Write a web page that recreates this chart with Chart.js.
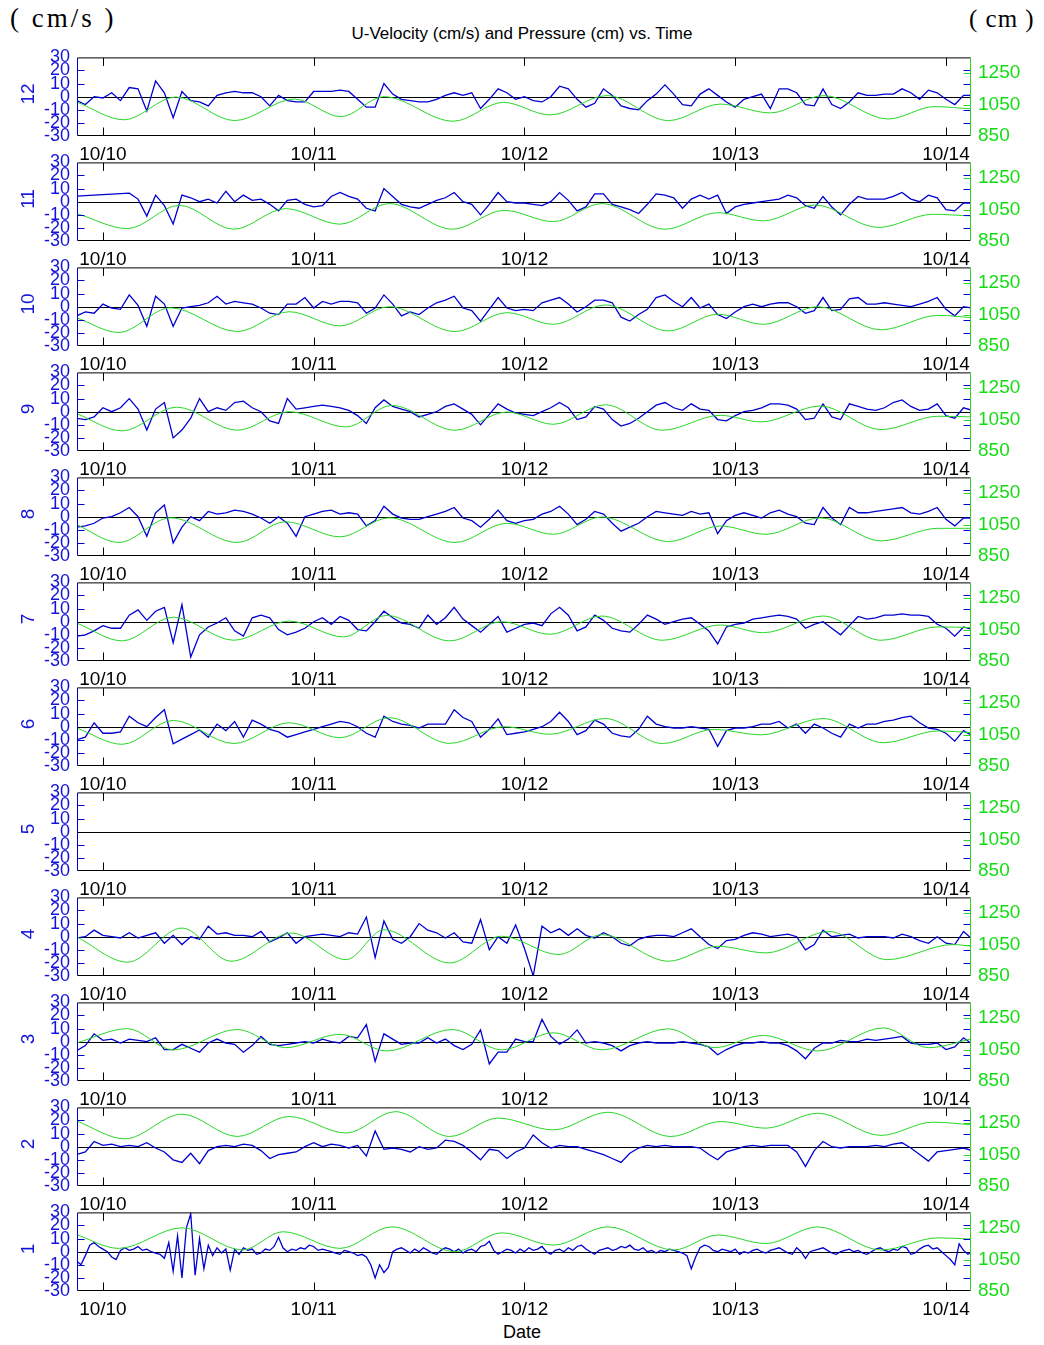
<!DOCTYPE html>
<html>
<head>
<meta charset="utf-8">
<script src="https://cdn.jsdelivr.net/npm/chart.js@4.4.1/dist/chart.umd.min.js"></script>
<style>
    body { margin: 0; background: #fff; width: 1044px; height: 1345px; position: relative; overflow: hidden; font-family: "Liberation Sans", Arial, sans-serif; }
    canvas { position: absolute; left: 0; }
    .title { position: absolute; left: 0; width: 1044px; top: 24px; line-height: 20px; text-align: center; font-size: 17px; color: #000; }
    .date { position: absolute; left: 0; width: 1044px; top: 1322px; line-height: 20px; text-align: center; font-size: 18px; color: #000; }
    .unit { position: absolute; font-family: "Liberation Serif", serif; color: #000; white-space: pre; }
    .panel-no { position: absolute; left: 8px; width: 40px; height: 20px; line-height: 20px; text-align: center; font-size: 19px; color: #1414d8; transform: rotate(-90deg); }
</style>
</head>
<body>
<div class="unit" style="left:10px; top:3px; font-size:27px; letter-spacing:3px;">( cm/s )</div>
<div class="unit" style="left:969px; top:5px; font-size:25px; letter-spacing:1px;">( cm )</div>
<div class="title">U-Velocity (cm/s) and Pressure (cm) vs. Time</div>
<div class="date">Date</div>
<script>
document.addEventListener('DOMContentLoaded', () => {
    // velocity records: one value per sample, first sample at 10/09 21:00 (hour -3)
    const uStart = -3;
    const u12 = [-3, -6, 0,
        -1, 3, -3, 7, 6, -11, 12, 3, -16, 4, -3, -4,
        -7, 1, 3, 4, 3, 3, 0, -7, 1, -3, -4, -4,
        4, 4, 4, 5, 4, -2, -8, -8, 10, 2, -2, -3,
        -4, -4, -2, 1, 3, 1, 3, -9, -2, 6, 3, -2,
        0, -3, -4, 0, 8, 6, -2, -8, -5, 6, 1, -7,
        -9, -10, -3, 2, 9, 2, -6, -7, 2, 6, 1, -4,
        -8, -2, 0, 2, -9, 6, 6, 3, -6, -7, 6, -6,
        -9, -4, 3, 1, 1, 2, 2, 6, 3, -2, 5, 3,
        -2, -6, 1, 1];
    const u11 = [4.3, 4.6, 5,
        5.4, 5.8, 6.2, 6.5, 2, -11, 5, -3, -17, 5, 3, 0,
        2, -1, 8, 0, 5, 1, 2, -2, -7, 1, 2, -2,
        -4, -3, 4, 7, 4, 2, -5, -7, 10, 4, -2, -4,
        -5, -2, 1, 3, 7, 0, -2, -10, -2, 7, 0, -1,
        -1, -2, -3, 0, 7, 1, -7, -4, 6, 6, -2, -4,
        -6, -9, -2, 6, 5, 3, -5, 2, 5, 2, 5, -9,
        -4, -2, -1, 0, 1, 2, 5, 3, -3, -5, 4, -4,
        -10, -2, 4, 2, 2, 2, 4, 7, 2, 0, 5, 3,
        -6, -7, -1, -1];
    const u10 = [-7, -4, -5,
        2, -1, -2, 9, 1, -15, 8, 2, -15, -1, 0, 1,
        3, 8, 2, 4, 3, 2, -1, -5, -6, 2, 2, 7,
        -1, 4, 2, 4, 4, 3, -5, -1, 9, 2, -7, -4,
        -6, -1, 3, 5, 8, -1, -3, -11, -2, 7, -1, -3,
        -2, -3, 3, 5, 7, 2, -4, 0, 5, 5, 3, -8,
        -11, -6, -2, 7, 9, 4, 0, 7, -1, 2, -6, -9,
        -4, 0, 2, 0, 2, 3, 3, 0, -5, -3, 7, -3,
        -2, 6, 7, 2, 2, 3, 2, 1, 0, 2, 4, 7,
        -2, -7, 0, -1];
    const u9 = [-5, -6, -4,
        3, 0, 3, 10, 2, -14, 2, 7, -20, -14, -5, 10,
        0, 3, 1, 7, 8, 3, 0, -7, -9, 10, 2, 3,
        4, 5, 4, 3, 1, -3, -9, 3, 9, 4, 2, 0,
        -4, -2, 0, 4, 6, 2, -2, -10, -2, 6, 2, -1,
        -2, -3, 0, 3, 7, 3, -6, -4, 4, 2, -6, -11,
        -9, -5, 0, 5, 7, 3, 1, 6, 2, 1, -6, -7,
        -3, 0, 1, 3, 6, 6, 5, 2, -6, -5, 6, -4,
        -6, 6, 4, 2, 1, 3, 7, 9, 4, 1, 2, 6,
        -3, -5, 3, 1];
    const u8 = [-8, -7, -5,
        -1, 0, 3, 7, 0, -15, 3, 9, -20, -8, 0, -3,
        4, 2, 3, 5, 4, 2, -1, -5, 0, -5, -15, 0,
        2, 4, 5, 2, 3, 2, -7, -3, 8, 2, -1, -2,
        -2, 0, 2, 4, 7, -1, -3, -8, -2, 5, -3, -5,
        -3, -2, 2, 4, 8, 2, -6, -2, 4, 2, -5, -11,
        -8, -5, 0, 4, 3, 2, 1, 4, 2, 3, -13, -3,
        1, 3, 1, -1, 3, 5, 2, 0, -5, -6, 7, -1,
        -6, 7, 3, 3, 4, 5, 6, 7, 3, 2, 4, 7,
        -2, -7, -1, -1];
    const u7 = [-11, -10, -7,
        -3, -5, -5, 5, 9, 1, 8, 11, -16, 13, -27, -10,
        -4, -1, 3, -7, -11, 3, 5, 3, -6, -10, -8, -5,
        0, 3, -2, 4, 1, -6, -7, 0, 8, 3, -1, -2,
        -5, 5, -2, 3, 11, 2, -3, -8, -2, 4, -8, -5,
        -2, -1, -3, 6, 11, 5, -7, -4, 5, 1, -5, -7,
        -8, -2, 5, 2, -2, 0, 2, 3, -2, -7, -17, -4,
        -2, -1, 2, 3, 4, 5, 4, 2, -5, -2, 0, -5,
        -10, -3, 4, 2, 3, 5, 5, 6, 5, 5, 4, -2,
        -5, -11, -4, -6];
    const u6 = [-10, -8, 3,
        -5, -5, -4, 8, 3, 0, 7, 13, -13, -9.5, -6, -2.5,
        -8, 2, -3, 4, -8, 5, 2, -2, -4, -8, -6, -4,
        -2, 0, 2, 4, 3, 0, -5, -8, 8, 4, 2, 1,
        -1, 2, 2, 2, 13, 7, 4, -8, -2, 6, -6, -5,
        -4, -2, 0, 4, 11, 4, -6, -3, 5, 2, -5, -7,
        -8, -2, 8, 2, 0, -1, -1, 0, -1, -2, -15, -3,
        -1, -1, 0, 2, 2, 4, -1, 2, -5, 2, -1, -5,
        -8, 2, -1, 2, 2, 4, 5, 7, 8, 3, -1, -2,
        -5, -11, -3, -7];
    const u4 = [-1, 0, 5,
        1, 0, -1, 3, -1, 1, 3, -5, 1, -6, 0, -2,
        8, 2, 3, 1, 1, 0, 4, -4, -1, 3, -5, 0,
        1, 2, 1, 0, 3, 2, 15, -16, 12, -2, -5, 0,
        10, 5, 3, -1, 3, -4, -5, 13, -10, 0, -5, 9,
        -9, -30, 8, 3, 6, 1, 6, 1, -1, 3, 0, -5,
        -7, -2, 0, 1, 1, 0, 3, 6, 0, -6, -9, -3,
        -2, 1, 3, 2, 0, 1, 2, 0, -10, -6, 5, 0,
        1, 2, -1, 0, 0, 0, -1, 2, 0, -3, -5, 0,
        -5, -6, 4, -2];
    const u3 = [-7, -3, 6,
        1, 2, -1, 2, 1, 0, 3, -6, -6, -2, -5, -8,
        -1, 2, -1, -2, -8, -3, 4, -2, -3, -2, -1, 0,
        -1, 2, 0, -1, 4, 3, 13, -15, 6, 2, -2, -1,
        -1, 3, -1, 2, -3, -6, -2, 9, -17, -8, -8, 2,
        0, 0, 17, 4, -2, 2, 9, -1, 0, -1, -3, -7,
        -3, -1, 0, -1, -1, -1, 0, -1, -2, -4, -10, -6,
        -3, -1, -1, 0, -1, -1, -3, -7, -13, -5, -1, -1,
        1, 0, 0, 2, 1, 2, 3, 4, -1, -2, -2, -1,
        -6, -4, 3, -2];
    const u2 = [-6, -4, 4,
        1, 2, 0, 1, 0, 3, -1, -4, -10, -12, -5, -13,
        -3, 0, 1, 0, 2, 1, -3, -9, -6, -5, -4, 0,
        3, 0, 2, 1, -1, 1, -7, 12, -2, -1, -2, -4,
        0, -2, -1, 5, 4, 1, -4, -10, -2, -3, -9, -4,
        -1, 9, 3, -1, 1, 0, 0, -2, -4, -6, -9, -12,
        -5, -1, 1, 0, 1, 0, 0, 0, -1, -6, -10, -4,
        -2, 0, 1, 0, 1, 1, 1, -4, -15, -3, 4, 0,
        -1, 0, 0, 0, 1, 0, 2, 3, -1, -6, -11, -4,
        -3, -2, -1, -3];
    // bottom record is sampled every half hour
    const u1 = [-7, -10, -3, 5, 7, 4,
        2, 0, -4, -6, 1, 3, 1, 2, 4, 1, 2, 0, -1, -2, -5, 7, -15, 12, -20, 18, 29, -18, 10, -13,
        5, -3, 3, -1, 2, -14, 2, -2, 3, 1, 2, -2, -1, 2, 1, 4, 11, 3, 0, 2, 1, 3, 2, 5,
        4, 1, 2, 1, 0, -1, -2, 1, 0, -1, -3, -2, -4, -10, -20, -10, -16, -12, 0, 2, 3, 1, -1, 2,
        0, 3, 1, -1, -2, 1, 3, 2, 0, 2, -1, 1, 2, 0, 4, 5, 8, 1, -2, 0, 2, 1, -1, 2,
        0, 3, 1, 2, 4, 0, -2, 1, 2, 0, 3, 1, 4, 5, 2, 0, -2, 1, 2, 3, 1, 2, 4, 3,
        5, 2, 1, 3, 0, 1, -1, 1, 0, 2, 1, 0, -1, -3, -13, -4, 3, 5, 4, 1, 0, 2, 1, 0,
        2, -2, 0, -1, 1, 2, 0, -1, 1, 2, 3, 1, -1, -2, 3, 0, -5, 0, 1, 2, 3, 1, -1, -2,
        0, 1, 2, 0, 1, -1, -2, 0, 2, 3, 1, 0, 2, 1, 4, 3, -2, -1, 2, 4, 5, 2, 3, 0,
        -3, -6, -10, 6, 1, -2, 0];

    // pressure: turning points of the tide (hour, cm)
    const p12h = [-3, 2.4, 8.3, 15, 21.8, 27.1, 32, 39.9, 45.6, 50.9, 57.4, 64.4, 70.3, 76, 82.1, 89.4, 94.7, 99];
    const p12 = [1067, 953, 1098, 948, 1085, 973, 1100, 944, 1064, 984, 1107, 948, 1053, 997, 1107, 958, 1037, 1022];
    const p11h = [-3, 2.8, 8.7, 14.9, 20.8, 27, 32.6, 39.8, 45.7, 51.3, 56.8, 64, 70, 75.2, 81.1, 88.3, 94.5, 99];
    const p11 = [1025, 929, 1077, 925, 1056, 957, 1088, 925, 1045, 973, 1088, 925, 1030, 978, 1079, 936, 1020, 1009];
    const p10h = [-3, 1.8, 7.7, 15.3, 21.2, 27, 32.6, 40.1, 46, 51.3, 57.2, 64.4, 70, 75.2, 81.4, 88.6, 95.1, 99];
    const p10 = [1030, 936, 1093, 942, 1068, 978, 1100, 942, 1062, 988, 1111, 946, 1052, 988, 1100, 953, 1045, 1030];
    const p9h = [-3, 2.2, 8.4, 15.3, 21.2, 27.7, 32.9, 40.1, 46, 51.3, 57.2, 63.7, 70.3, 74.9, 81.7, 88.6, 95.1, 99];
    const p9 = [1088, 978, 1129, 982, 1100, 1003, 1140, 982, 1098, 1020, 1144, 982, 1077, 1035, 1136, 986, 1071, 1067];
    const p8h = [-3, 1.8, 7.7, 15.3, 20.8, 27, 32.6, 40.1, 46, 51.3, 56.8, 64.4, 70.3, 75.5, 81.7, 88.6, 95.1, 99];
    const p8 = [1050, 936, 1093, 936, 1068, 972, 1093, 936, 1058, 988, 1098, 942, 1041, 988, 1093, 946, 1026, 1026];
    const p7h = [-3, 2.2, 8, 14.9, 21.2, 27.4, 32.3, 39.5, 45.4, 50.9, 56.8, 63.7, 70.3, 75.2, 82, 88.6, 95.1, 99];
    const p7 = [1092, 978, 1129, 982, 1104, 1003, 1140, 978, 1100, 1020, 1136, 982, 1079, 1030, 1136, 982, 1067, 1062];
    const p6h = [-3, 2.2, 8, 14.9, 21.2, 27, 32.6, 39.5, 45.7, 50.9, 57.2, 63.7, 69.6, 74.9, 82, 88.9, 95.1, 99];
    const p6 = [1092, 988, 1140, 993, 1125, 1030, 1157, 994, 1100, 1052, 1152, 993, 1083, 1048, 1152, 998, 1073, 1062];
    const p4h = [-3, 2.8, 9, 14.6, 21.5, 27.7, 32, 39.5, 45.4, 51.9, 56.8, 64.4, 70, 75.5, 82.7, 89.3, 96.8, 99];
    const p4 = [1100, 938, 1155, 944, 1123, 954, 1144, 933, 1103, 986, 1113, 944, 1039, 997, 1133, 954, 1050, 1039];
    const p3h = [-3, 2.8, 8, 15.3, 20.8, 27, 32.3, 39.8, 45.4, 51.3, 56.8, 64.4, 69.6, 75.2, 81.4, 88.9, 94, 99];
    const p3 = [1092, 1183, 1048, 1178, 1062, 1147, 1041, 1178, 1048, 1157, 1048, 1182, 1062, 1140, 1041, 1188, 1062, 1119];
    const p2h = [-3, 2.5, 9, 15.3, 21.2, 27.7, 33.3, 39.5, 45, 51.3, 57.5, 64.7, 70.3, 75.5, 81.4, 88.6, 94.5, 99];
    const p2 = [1264, 1150, 1307, 1165, 1292, 1187, 1323, 1165, 1282, 1207, 1319, 1165, 1260, 1218, 1313, 1172, 1256, 1239];
    const p1h = [-3, 1.8, 9, 15.9, 20.5, 27, 32.9, 40.1, 45.4, 51.3, 57.5, 65, 70, 75.5, 81.4, 88.6, 95.1, 99];
    const p1 = [1208, 1121, 1252, 1111, 1227, 1121, 1258, 1100, 1220, 1142, 1258, 1111, 1206, 1152, 1258, 1111, 1188, 1180];

    const dayHours = [0, 24, 48, 72, 96];
    const dayLabels = ['10/10', '10/11', '10/12', '10/13', '10/14'];
    const uTicks = [-30, -20, -10, 0, 10, 20, 30];
    const pTicks = [850, 1050, 1250];

    const panels = [
        { name: '12', u: u12, step: 1, ph: p12h, p: p12 },
        { name: '11', u: u11, step: 1, ph: p11h, p: p11 },
        { name: '10', u: u10, step: 1, ph: p10h, p: p10 },
        { name: '9', u: u9, step: 1, ph: p9h, p: p9 },
        { name: '8', u: u8, step: 1, ph: p8h, p: p8 },
        { name: '7', u: u7, step: 1, ph: p7h, p: p7 },
        { name: '6', u: u6, step: 1, ph: p6h, p: p6 },
        { name: '5', u: [], step: 1, ph: [], p: [] },
        { name: '4', u: u4, step: 1, ph: p4h, p: p4 },
        { name: '3', u: u3, step: 1, ph: p3h, p: p3 },
        { name: '2', u: u2, step: 1, ph: p2h, p: p2 },
        { name: '1', u: u1, step: 0.5, ph: p1h, p: p1 }
    ];

    const blue = '#0000d0';
    const blueText = '#1414d8';
    const green = 'rgb(40,215,40)';
    const greenText = '#14dc14';
    const font = '"Liberation Sans", Arial, sans-serif';

    const firstTop = 57, gap = 105, plotH = 79, padTop = 14, xAxisH = 32;

    // box, inward ticks and the zero line, drawn with the chart's own scales
    const frame = {
        id: 'frame',
        beforeDatasetsDraw(chart) {
            const { ctx, chartArea: a, scales } = chart;
            const y0 = Math.round(scales.u.getPixelForValue(0)) + 0.5;
            ctx.save();
            ctx.strokeStyle = '#000';
            ctx.lineWidth = 1;
            ctx.beginPath();
            ctx.moveTo(a.left, y0);
            ctx.lineTo(a.right, y0);
            ctx.stroke();
            ctx.restore();
        },
        afterDraw(chart) {
            const { ctx, chartArea: a, scales } = chart;
            const L = a.left + 0.5, R = a.right - 0.5, T = a.top + 0.5, B = a.bottom - 0.5;
            ctx.save();
            ctx.lineWidth = 1;
            ctx.strokeStyle = '#000';
            ctx.beginPath();
            ctx.moveTo(L, T); ctx.lineTo(R, T);
            ctx.moveTo(L, B); ctx.lineTo(R, B);
            dayHours.forEach(h => {
                const x = Math.round(scales.x.getPixelForValue(h)) + 0.5;
                ctx.moveTo(x, T); ctx.lineTo(x, T + 8);
                ctx.moveTo(x, B); ctx.lineTo(x, B - 8);
            });
            ctx.stroke();

            ctx.strokeStyle = blue;
            ctx.beginPath();
            ctx.moveTo(L, T); ctx.lineTo(L, B);
            [-20, -10, 10, 20].forEach(v => {
                const y = Math.round(scales.u.getPixelForValue(v)) + 0.5;
                ctx.moveTo(L, y); ctx.lineTo(L + 7, y);
                ctx.moveTo(R, y); ctx.lineTo(R - 7, y);
            });
            ctx.stroke();

            ctx.strokeStyle = green;
            ctx.beginPath();
            ctx.moveTo(R, T); ctx.lineTo(R, B);
            [1050, 1250].forEach(v => {
                const y = Math.round(scales.p.getPixelForValue(v)) + 0.5;
                ctx.moveTo(R, y); ctx.lineTo(R - 7, y);
            });
            ctx.stroke();
            ctx.restore();
        }
    };

    const makeConfig = panel => ({
        type: 'line',
        data: {
            datasets: [{
                label: 'Pressure',
                data: panel.ph.map((h, k) => ({ x: h, y: panel.p[k] })),
                yAxisID: 'p',
                borderColor: green,
                borderWidth: 1,
                pointRadius: 0,
                cubicInterpolationMode: 'monotone'
            }, {
                label: 'U-Velocity',
                data: panel.u.map((v, k) => ({ x: uStart + k * panel.step, y: v })),
                yAxisID: 'u',
                borderColor: blue,
                borderWidth: 1.3,
                pointRadius: 0,
                tension: 0
            }]
        },
        options: {
            responsive: false,
            maintainAspectRatio: false,
            animation: false,
            devicePixelRatio: 1,
            layout: { padding: { top: padTop, left: 0, right: 0, bottom: 0 } },
            plugins: {
                legend: { display: false },
                tooltip: { enabled: false }
            },
            scales: {
                x: {
                    type: 'linear',
                    position: 'bottom',
                    min: -2.95,
                    max: 98.85,
                    grid: { display: false, drawTicks: false },
                    border: { display: false },
                    afterBuildTicks: s => { s.ticks = dayHours.map(v => ({ value: v })); },
                    afterFit: s => { s.height = xAxisH; },
                    ticks: {
                        autoSkip: false,
                        maxRotation: 0,
                        color: '#000',
                        padding: 7,
                        font: { family: font, size: 19 },
                        callback: v => dayLabels[dayHours.indexOf(v)]
                    }
                },
                u: {
                    axis: 'y',
                    position: 'left',
                    min: -30,
                    max: 30,
                    grid: { display: false, drawTicks: false },
                    border: { display: false },
                    afterBuildTicks: s => { s.ticks = uTicks.map(v => ({ value: v })); },
                    afterFit: s => { s.width = 77; },
                    ticks: {
                        autoSkip: false,
                        color: blueText,
                        padding: 7,
                        font: { family: font, size: 18 },
                        callback: v => String(v)
                    }
                },
                p: {
                    axis: 'y',
                    position: 'right',
                    min: 850,
                    max: 1350,
                    grid: { display: false, drawTicks: false },
                    border: { display: false },
                    afterBuildTicks: s => { s.ticks = pTicks.map(v => ({ value: v })); },
                    afterFit: s => { s.width = 73; },
                    ticks: {
                        autoSkip: false,
                        color: greenText,
                        padding: 7,
                        font: { family: font, size: 19 },
                        callback: v => String(v)
                    }
                }
            }
        },
        plugins: [frame]
    });

    panels.forEach((panel, i) => {
        const top = firstTop + gap * i;
        const canvas = document.createElement('canvas');
        canvas.width = 1044;
        canvas.height = padTop + plotH + xAxisH;
        document.body.appendChild(canvas);

        let chart = new Chart(canvas, makeConfig(panel));
        // the layout keeps some room for the tick labels; grow the canvas until the plot box is plotH tall
        const got = chart.chartArea.bottom - chart.chartArea.top;
        if (Math.round(got) !== plotH) {
            const h = canvas.height + plotH - got;
            chart.destroy();
            canvas.width = 1044;
            canvas.height = Math.round(h);
            chart = new Chart(canvas, makeConfig(panel));
        }
        canvas.style.top = (top - chart.chartArea.top) + 'px';

        const label = document.createElement('div');
        label.className = 'panel-no';
        label.textContent = panel.name;
        label.style.top = (top + 37 - 10) + 'px';
        document.body.appendChild(label);
    });
});
</script>
</body>
</html>
